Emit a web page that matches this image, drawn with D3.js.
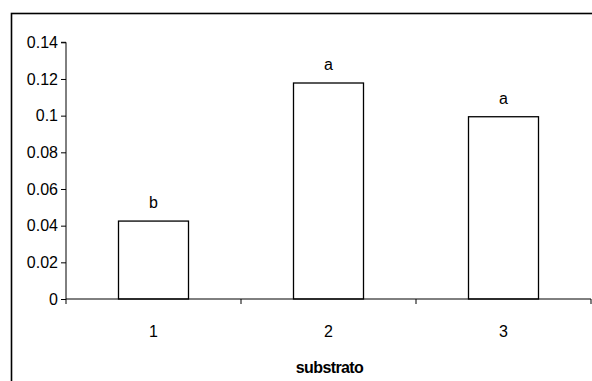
<!DOCTYPE html>
<html>
<head>
<meta charset="utf-8">
<script src="https://cdn.jsdelivr.net/npm/d3@7"></script>
<style>
  html, body { margin: 0; padding: 0; background: #fff; }
  svg { display: block; }
  text { font-family: Arial, "Liberation Sans", sans-serif; fill: #000; }
</style>
</head>
<body>
<script>
const categories = ["1", "2", "3"];
const values = [0.0425, 0.1178, 0.0994];
const letters = ["b", "a", "a"];
const yTicks = [0, 0.02, 0.04, 0.06, 0.08, 0.1, 0.12, 0.14];
const yTickLabels = ["0", "0.02", "0.04", "0.06", "0.08", "0.1", "0.12", "0.14"];
const xTitle = "substrato";

const W = 592, H = 381;
const FS = 16;
const svg = d3.select("body").append("svg").attr("width", W).attr("height", H);

// outer chart-area border
svg.append("rect")
  .attr("x", 11.5).attr("y", 13.5)
  .attr("width", W + 20).attr("height", H + 20)
  .attr("fill", "none").attr("stroke", "#000").attr("stroke-width", 1.6);

const plot = { left: 66, right: 591, top: 42.3, bottom: 299 };

const x = d3.scaleBand().domain(categories)
  .range([plot.left, plot.right]).paddingInner(0).paddingOuter(0);
const y = d3.scaleLinear().domain([0, 0.14]).range([plot.bottom, plot.top]);

const barW = x.bandwidth() * 0.4;

// bars
svg.append("g").selectAll("rect").data(values).join("rect")
  .attr("x", (d, i) => x(categories[i]) + (x.bandwidth() - barW) / 2)
  .attr("y", d => y(d))
  .attr("width", barW)
  .attr("height", d => y(0) - y(d))
  .attr("fill", "#fff").attr("stroke", "#000").attr("stroke-width", 1.3);

// letters
svg.append("g").selectAll("text").data(values).join("text")
  .attr("x", (d, i) => x(categories[i]) + x.bandwidth() / 2)
  .attr("y", d => y(d) - 13)
  .attr("text-anchor", "middle")
  .attr("font-size", FS)
  .text((d, i) => letters[i]);

// y axis
const yAxis = d3.axisLeft(y).tickValues(yTicks)
  .tickFormat((d, i) => yTickLabels[i]).tickSize(5).tickPadding(3);
const gy = svg.append("g").attr("transform", `translate(${plot.left},0)`).call(yAxis);
gy.attr("font-size", FS).attr("font-family", "Arial, 'Liberation Sans', sans-serif");
gy.select(".domain").attr("d", `M-5,${plot.top}H0V${plot.bottom}`).attr("stroke", "#000");
gy.selectAll(".tick line").attr("stroke", "#000");
gy.selectAll(".tick text").attr("font-size", FS).attr("fill", "#000");

// x axis
const gx = svg.append("g").attr("transform", `translate(0,${plot.bottom})`);
gx.append("line").attr("x1", plot.left).attr("x2", plot.right)
  .attr("stroke", "#000").attr("stroke-width", 1);
const boundaries = categories.map(c => x(c) + x.bandwidth()).concat([x(categories[0])]);
gx.selectAll("line.tk").data(boundaries).join("line").attr("class", "tk")
  .attr("x1", d => d).attr("x2", d => d).attr("y1", 0).attr("y2", 5)
  .attr("stroke", "#000");
gx.selectAll("text.cat").data(categories).join("text").attr("class", "cat")
  .attr("x", d => x(d) + x.bandwidth() / 2)
  .attr("y", 38)
  .attr("text-anchor", "middle").attr("font-size", FS)
  .text(d => d);

svg.append("text")
  .attr("x", (plot.left + plot.right) / 2 + 1)
  .attr("y", 373)
  .attr("text-anchor", "middle").attr("font-size", FS).attr("font-weight", "bold")
  .attr("letter-spacing", -0.6)
  .text(xTitle);
</script>
</body>
</html>
